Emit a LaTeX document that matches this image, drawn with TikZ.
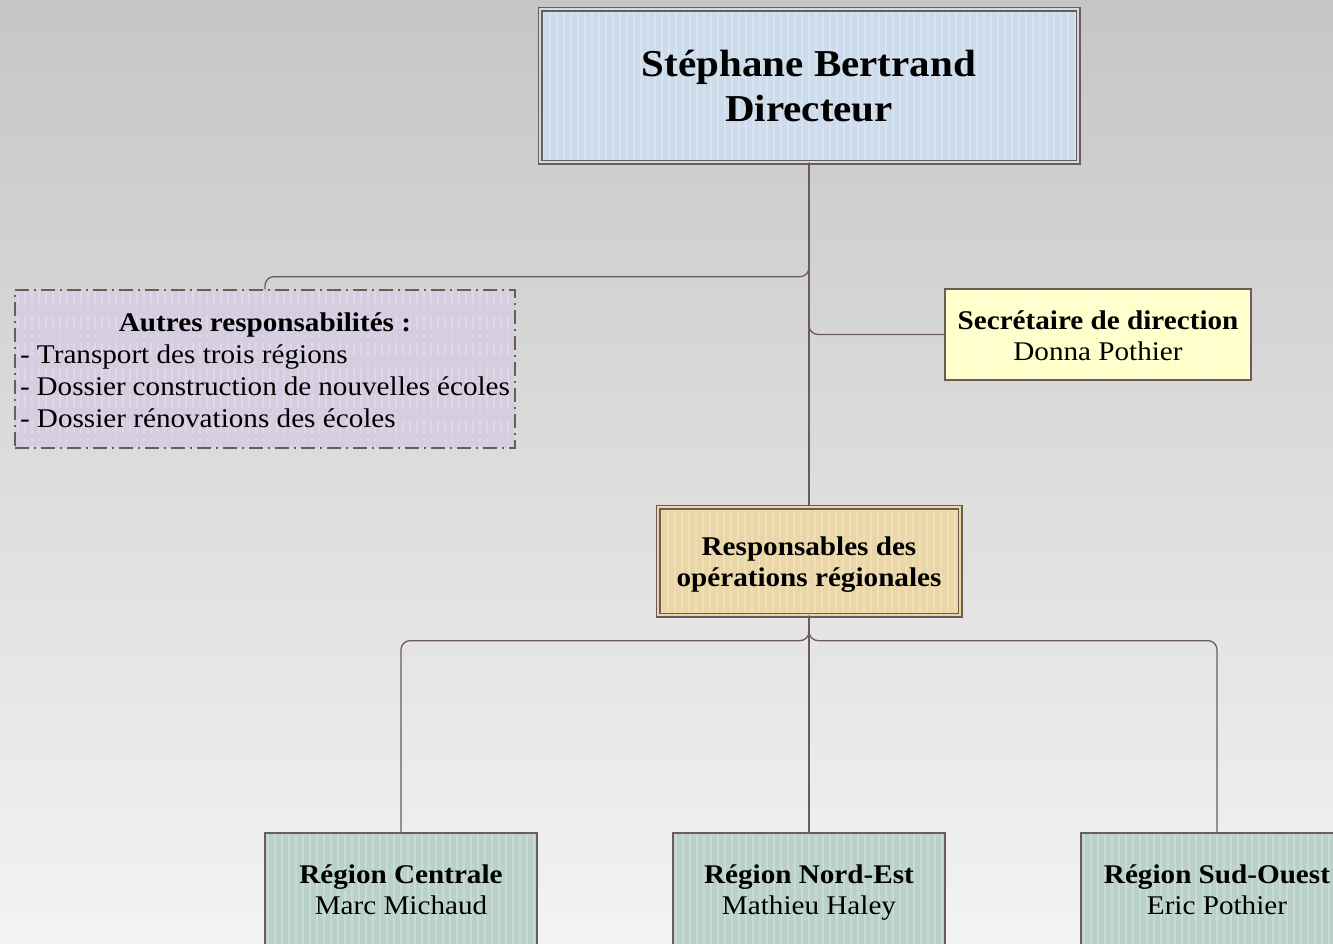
\documentclass[tikz,border=0pt]{standalone}
\usepackage{fontspec}
\setmainfont{Liberation Serif}[FakeStretch=1.08]
\usetikzlibrary{calc}
\definecolor{bgtop}{HTML}{C6C6C6}
\definecolor{bgbot}{HTML}{F3F3F3}
\definecolor{brd}{HTML}{6D5B57}
\definecolor{fdir}{HTML}{CDDCEA}
\definecolor{faut}{HTML}{D5CEE0}
\definecolor{fsec}{HTML}{FFFFCA}
\definecolor{fresp}{HTML}{EAD6A6}
\definecolor{freg}{HTML}{B9D1CA}
\newcommand\tp{\rule{0pt}{\dimexpr\ht\strutbox+8pt\relax}}
\tikzset{
  stripes/.style={path picture={\foreach \i in {0,...,80}{\draw[white,opacity=0.22,line width=2.5pt]
      ([xshift=\i*7pt+3pt]path picture bounding box.north west) -- ([xshift=\i*7pt+3pt]path picture bounding box.south west);}}},
  box/.style={draw=brd, line width=1.3pt, stripes, inner sep=4pt, align=center, font=\fontsize{27}{31}\selectfont,
    execute at end node={\strut}},
  dbox/.style={box, double=#1, double distance=2.4pt, line width=1.3pt, fill=#1},
  conn/.style={draw=brd, line width=1.3pt, rounded corners=9pt},
}
\begin{document}
\begin{tikzpicture}[x=1pt,y=-1pt]
\useasboundingbox (0,0) rectangle (1333,943);
\clip (0,0) rectangle (1333,943);
\shade[top color=bgtop, bottom color=bgbot] (0,0) rectangle (1333,943);

\node[dbox=fdir, minimum width=538pt, minimum height=153pt, font=\fontsize{38}{45}\selectfont\bfseries] (dir) at (809,85.5)
  {\tp Stéphane Bertrand\\Directeur};

\node[box, fill=faut, dash pattern=on 14pt off 5pt on 2pt off 5pt, minimum width=500pt, minimum height=158pt,
  text width=490pt, align=flush left, inner sep=5pt, font=\fontsize{27}{32}\selectfont] (aut) at (265,369)
  {\tp\hfill\textbf{Autres responsabilités :}\hfill\null\\- Transport des trois régions\\- Dossier construction de nouvelles écoles\\- Dossier rénovations des écoles};

\node[box, fill=fsec, minimum width=306pt, minimum height=91pt] (sec) at (1098,334.5)
  {\tp\textbf{Secrétaire de direction}\\Donna Pothier};

\node[dbox=fresp, minimum width=302pt, minimum height=108pt] (resp) at (809,561)
  {\tp\textbf{Responsables des}\\\textbf{opérations régionales}};

\node[box, fill=freg, minimum width=272pt, minimum height=112pt] (rc) at (401,889)
  {\tp\textbf{Région Centrale}\\Marc Michaud};
\node[box, fill=freg, minimum width=272pt, minimum height=112pt] (rn) at (809,889)
  {\tp\textbf{Région Nord-Est}\\Mathieu Haley};
\node[box, fill=freg, minimum width=272pt, minimum height=112pt] (rs) at (1217,889)
  {\tp\textbf{Région Sud-Ouest}\\Eric Pothier};

\draw[conn] (dir.south) -- ++(0,114) -| (aut.north);
\draw[conn] (dir.south) |- (sec.west);
\draw[conn] (dir.south) -- (resp.north);
\draw[conn] (resp.south) -- ++(0,25) -| (rc.north);
\draw[conn] (resp.south) -- ++(0,25) -| (rs.north);
\draw[conn] (resp.south) -- (rn.north);
\end{tikzpicture}
\end{document}
